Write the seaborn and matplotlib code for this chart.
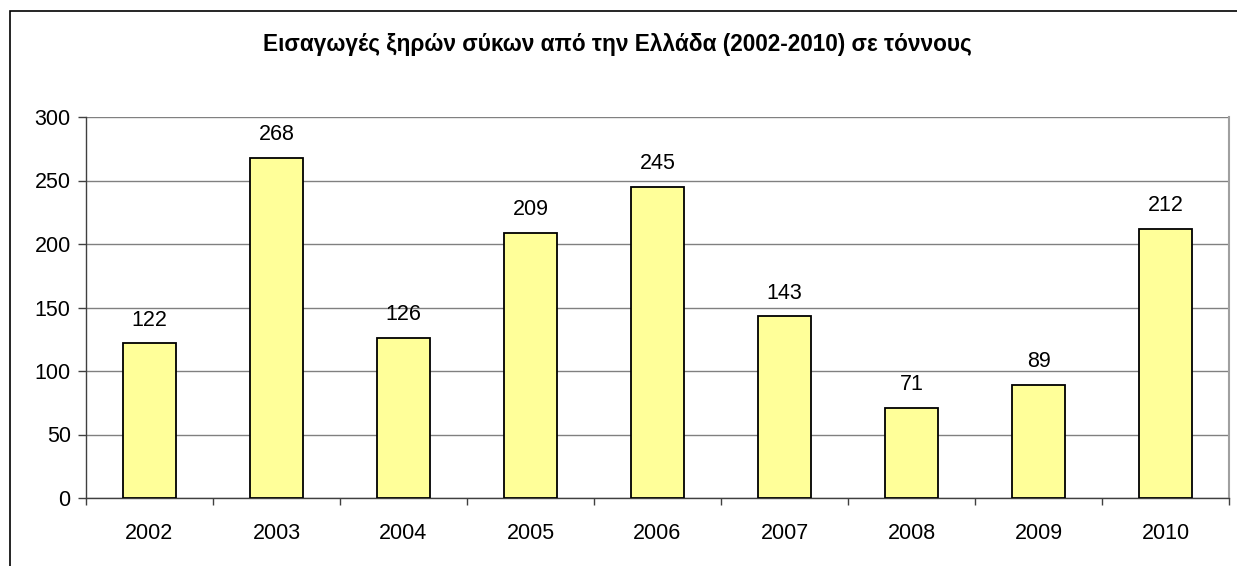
import matplotlib
matplotlib.use('Agg')
import matplotlib.pyplot as plt
import matplotlib.patches as patches
import seaborn as sns
import pandas as pd

# Data
years = ['2002', '2003', '2004', '2005', '2006', '2007', '2008', '2009', '2010']
tonnes = [122, 268, 126, 209, 245, 143, 71, 89, 212]
yticks = [0, 50, 100, 150, 200, 250, 300]
title = 'Εισαγωγές ξηρών σύκων από την Ελλάδα (2002-2010) σε τόννους'

sns.set_style('white')
plt.rcParams['font.family'] = ['Liberation Sans', 'DejaVu Sans']
plt.rcParams['text.color'] = 'black'
plt.rcParams['xtick.color'] = 'black'
plt.rcParams['ytick.color'] = 'black'

df = pd.DataFrame({'year': years, 'tonnes': tonnes})

fig = plt.figure(figsize=(12.37, 5.66), dpi=100)
ax = fig.add_axes([86 / 1237, 1 - 498 / 566, (1229 - 86) / 1237, (498 - 117) / 566])

sns.barplot(data=df, x='year', y='tonnes', color='#FFFF99', edgecolor='black',
            linewidth=1.3, width=0.42, saturation=1, ax=ax, zorder=3)

ax.set_ylim(0, 300)
ax.set_xlim(-0.5, len(years) - 0.5)
ax.set_yticks(yticks)
ax.yaxis.grid(True, color='#808080', linewidth=1, zorder=0)
ax.set_axisbelow(True)
ax.set_xlabel('')
ax.set_ylabel('')

# tick marks at category boundaries
ax.set_xticks([i - 0.5 for i in range(len(years) + 1)], minor=True)
ax.tick_params(axis='x', which='major', bottom=False, length=0, pad=18, labelsize=15.5,
               labelcolor='black')
ax.tick_params(axis='x', which='minor', bottom=True, length=5, width=1,
               color='#404040', direction='out')
ax.tick_params(axis='y', left=True, length=6, width=1, color='#404040', direction='out',
               labelsize=15.5, pad=5, labelcolor='black')

for side in ['left', 'bottom']:
    ax.spines[side].set_color('#404040')
    ax.spines[side].set_linewidth(1)
ax.spines['right'].set_color('#a0a0a0')
ax.spines['right'].set_linewidth(1.5)
ax.spines['top'].set_visible(False)

ax.bar_label(ax.containers[0], padding=9, fontsize=15.5, color='black')

fig.text(0.5 * (262 + 973) / 1237, 1 - 45 / 566, title, ha='center', va='center',
         fontsize=16.3, fontweight='bold', color='black')

# outer chart border
fig.patches.append(patches.Rectangle((10 / 1237, -0.1), 1.2, 1.1 - 11 / 566,
                                     transform=fig.transFigure, fill=False,
                                     edgecolor='black', linewidth=1.2))

fig.savefig('out.png', dpi=100)
